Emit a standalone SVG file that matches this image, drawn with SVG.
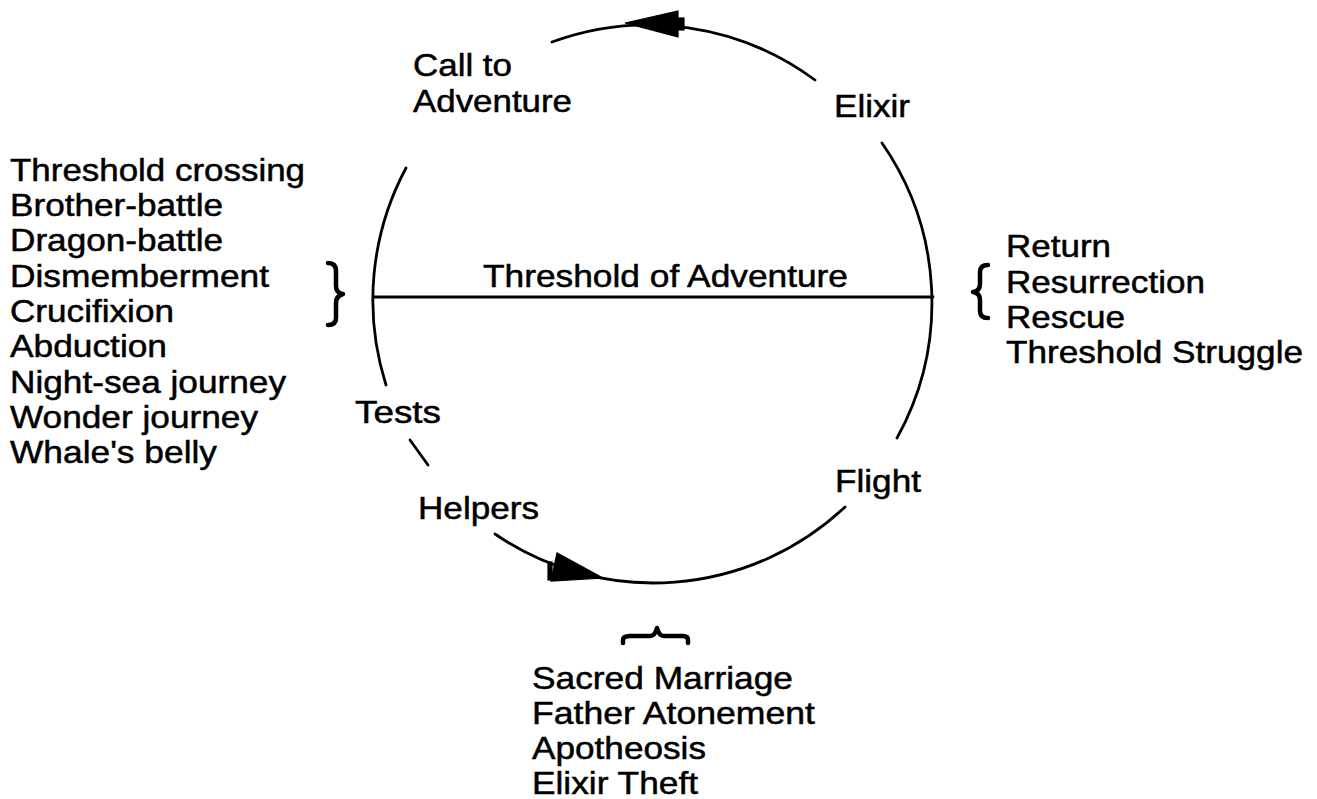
<svg xmlns="http://www.w3.org/2000/svg" width="1317" height="799" viewBox="0 0 1317 799">
<style>
.t{font-family:"Liberation Sans",Arial,Helvetica,sans-serif;font-size:32px;fill:#000;stroke:#000;stroke-width:0.5}
.ln{fill:none;stroke:#000;stroke-width:2.8;stroke-linecap:round}
.br{fill:none;stroke:#000;stroke-width:4.5;stroke-linecap:round;stroke-linejoin:round}
.ah{fill:#000;stroke:#000;stroke-width:1.2}
</style>
<rect width="1317" height="799" fill="#fff"/>
<g id="connectors">
<path class="ln" d="M815,80 A280,280 0 0 0 552,42"/>
<path class="ln" d="M882,143 A280,280 0 0 1 897,438"/>
<path class="ln" d="M845,507 A280,280 0 0 1 495,534"/>
<path class="ln" d="M406,168 A280,280 0 0 0 386,385"/>
<line class="ln" x1="410" y1="440" x2="428" y2="465"/>
<line class="ln" x1="374" y1="297" x2="933" y2="297"/>
<polygon class="ah" points="625,23 678,11 678,37"/>
<rect class="ah" x="678" y="18" width="6" height="12"/>
<polygon class="ah" points="603,578 557,553 551,581"/>
<rect class="ah" x="548" y="562" width="4" height="18"/>
</g>
<g id="node-call">
<text class="t" x="413" y="76" textLength="99" lengthAdjust="spacingAndGlyphs">Call to</text>
<text class="t" x="413" y="112" textLength="159" lengthAdjust="spacingAndGlyphs">Adventure</text>
</g>
<g id="node-elixir">
<text class="t" x="834" y="117" textLength="76" lengthAdjust="spacingAndGlyphs">Elixir</text>
</g>
<g id="node-threshold">
<text class="t" x="483" y="287" textLength="365" lengthAdjust="spacingAndGlyphs">Threshold of Adventure</text>
</g>
<g id="node-tests">
<text class="t" x="355" y="423" textLength="86" lengthAdjust="spacingAndGlyphs">Tests</text>
</g>
<g id="node-helpers">
<text class="t" x="418" y="519" textLength="121" lengthAdjust="spacingAndGlyphs">Helpers</text>
</g>
<g id="node-flight">
<text class="t" x="835" y="492" textLength="86" lengthAdjust="spacingAndGlyphs">Flight</text>
</g>
<g id="node-left-list">
<text class="t" x="10" y="181" textLength="295" lengthAdjust="spacingAndGlyphs">Threshold crossing</text>
<text class="t" x="10" y="216" textLength="213" lengthAdjust="spacingAndGlyphs">Brother-battle</text>
<text class="t" x="10" y="251" textLength="213" lengthAdjust="spacingAndGlyphs">Dragon-battle</text>
<text class="t" x="10" y="287" textLength="259" lengthAdjust="spacingAndGlyphs">Dismemberment</text>
<text class="t" x="10" y="322" textLength="164" lengthAdjust="spacingAndGlyphs">Crucifixion</text>
<text class="t" x="10" y="357" textLength="157" lengthAdjust="spacingAndGlyphs">Abduction</text>
<text class="t" x="10" y="393" textLength="276" lengthAdjust="spacingAndGlyphs">Night-sea journey</text>
<text class="t" x="10" y="428" textLength="248" lengthAdjust="spacingAndGlyphs">Wonder journey</text>
<text class="t" x="10" y="463" textLength="207" lengthAdjust="spacingAndGlyphs">Whale's belly</text>
<path class="br" d="M328,263 Q336,263 336,271 L336,286 Q336,293 343,294 Q336,296 336,303 L336,318 Q336,325 328,325"/>
</g>
<g id="node-right-list">
<path class="br" d="M988,265 Q980,265 980,272 L980,284 Q980,291 973,292 Q980,293 980,300 L980,311 Q980,318 988,318"/>
<text class="t" x="1006" y="257" textLength="105" lengthAdjust="spacingAndGlyphs">Return</text>
<text class="t" x="1006" y="293" textLength="199" lengthAdjust="spacingAndGlyphs">Resurrection</text>
<text class="t" x="1006" y="328" textLength="119" lengthAdjust="spacingAndGlyphs">Rescue</text>
<text class="t" x="1006" y="363" textLength="297" lengthAdjust="spacingAndGlyphs">Threshold Struggle</text>
</g>
<g id="node-bottom-list">
<path class="br" d="M623,643 L623,640 Q623,636 630,636 L650,636 Q655,636 657,628 Q659,636 664,636 L683,636 Q688,636 688,640 L688,643"/>
<text class="t" x="532" y="689" textLength="261" lengthAdjust="spacingAndGlyphs">Sacred Marriage</text>
<text class="t" x="532" y="724" textLength="283" lengthAdjust="spacingAndGlyphs">Father Atonement</text>
<text class="t" x="532" y="759" textLength="174" lengthAdjust="spacingAndGlyphs">Apotheosis</text>
<text class="t" x="532" y="794" textLength="166" lengthAdjust="spacingAndGlyphs">Elixir Theft</text>
</g>
</svg>
